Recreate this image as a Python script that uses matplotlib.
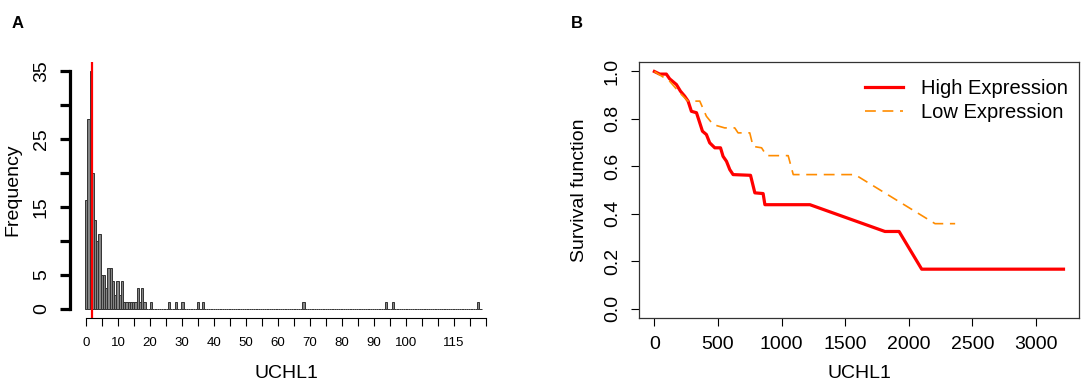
import numpy as np
import matplotlib
matplotlib.use("Agg")
import matplotlib.pyplot as plt

plt.rcParams['font.family'] = ['Liberation Sans', 'DejaVu Sans']

# panel A: histogram of UCHL1 (bin centres and counts)
bin_width = 0.7
bin_start = -0.3
hist_centers = [0.05, 0.75, 1.45, 2.15, 2.85, 3.55, 4.25, 4.95, 5.65, 6.35,
                7.05, 7.75, 8.45, 9.15, 9.85, 10.55, 11.25,
                11.95, 12.65, 13.35, 14.05, 14.75, 15.45, 16.15, 16.85, 17.55, 18.25,
                20.35, 26.0, 28.05, 30.15, 35.05, 36.45, 67.95, 93.85, 95.95, 122.55]
hist_counts = [16, 28, 35, 20, 13, 10, 11, 5, 5, 3,
               6, 6, 4, 2, 4, 2, 4,
               1, 1, 1, 1, 1, 1, 3, 1, 3, 1,
               1, 1, 1, 1, 1, 1, 1, 1, 1, 1]
cutoff = 1.97

freq_ticks = [0, 5, 10, 15, 20, 25, 30, 35]
freq_labels = ['0', '5', '', '15', '', '25', '', '35']
x_ticks_a = list(range(0, 126, 5))
x_labels_a = [str(v) if (v % 10 == 0 and v <= 100) or v == 115 else '' for v in x_ticks_a]

# panel B: survival curves
high_t = [0, 42, 94, 120, 173, 205, 238, 265, 291, 331, 357, 378, 409, 435, 475,
          520, 540, 567, 593, 619, 756, 790, 855, 869, 1223, 1813, 1924, 2102, 3217]
high_s = [1.0, 0.989, 0.989, 0.969, 0.945, 0.917, 0.896, 0.875, 0.832, 0.826, 0.783,
          0.748, 0.734, 0.699, 0.678, 0.678, 0.642, 0.621, 0.586, 0.565, 0.562, 0.488,
          0.485, 0.438, 0.438, 0.325, 0.325, 0.166, 0.166]
low_t = [0, 120, 199, 265, 357, 409, 462, 553, 632, 658, 750, 776, 843, 882, 1052,
         1092, 1577, 2207, 2365]
low_s = [1.0, 0.959, 0.910, 0.875, 0.875, 0.811, 0.776, 0.762, 0.762, 0.741, 0.741,
         0.684, 0.678, 0.645, 0.645, 0.565, 0.565, 0.358, 0.358]

fig = plt.figure(figsize=(10.84, 3.84), dpi=100)
W, H = 1084, 384

# ---- panel A
ax1 = fig.add_axes([70 / W, 66 / H, 432 / W, 256 / H])
edges = np.arange(bin_start, 124, bin_width)
ax1.hist(hist_centers, bins=edges, weights=hist_counts,
         facecolor='#858585', edgecolor='#333333', linewidth=0.7)
ax1.axvline(cutoff, color='#ff0000', linewidth=1.6)
ax1.set_xlim(-5, 130)
ax1.set_ylim(-1.4, 36.4)
for s in ['top', 'right']:
    ax1.spines[s].set_visible(False)
ax1.spines['left'].set_bounds(0, 35)
ax1.spines['left'].set_linewidth(2.3)
ax1.spines['bottom'].set_bounds(0, 125)
ax1.spines['bottom'].set_linewidth(0.8)
ax1.set_yticks(freq_ticks)
ax1.set_yticklabels(freq_labels)
ax1.tick_params(axis='y', length=7.5, width=2.3, labelsize=14, pad=7)
for lab in ax1.get_yticklabels():
    lab.set_rotation(90)
    lab.set_va('center')
ax1.set_xticks(x_ticks_a)
ax1.set_xticklabels(x_labels_a)
ax1.tick_params(axis='x', length=6, width=0.8, labelsize=9.5, pad=8)
ax1.set_ylabel('Frequency', fontsize=14)
ax1.yaxis.set_label_coords(-(70 - 21) / 432, 0.5)
ax1.set_xlabel('UCHL1', fontsize=14)
ax1.xaxis.set_label_coords(0.5, -(365 - 318) / 256)
fig.text(18 / W, 1 - 24 / H, 'A', fontsize=12, fontweight='bold', ha='center', va='center')

# ---- panel B
ax2 = fig.add_axes([639 / W, 66 / H, 440 / W, 256 / H])
ax2.plot(high_t, high_s, color='#ff0000', linewidth=2.3, label='High Expression')
ax2.plot(low_t, low_s, color='#ff8c00', linewidth=1.2, dashes=(6.5, 4.0),
         label='Low Expression')
ax2.set_xlim(-121, 3339)
ax2.set_ylim(-0.04, 1.04)
ax2.set_xticks(np.arange(0, 3001, 500))
ax2.set_yticks(np.arange(0, 1.01, 0.2))
ax2.set_yticklabels(['%.1f' % v for v in np.arange(0, 1.01, 0.2)])
for s in ax2.spines.values():
    s.set_linewidth(0.9)
    s.set_color('#333333')
ax2.tick_params(axis='both', length=6, width=0.8, labelsize=14, pad=7)
for lab in ax2.get_yticklabels():
    lab.set_rotation(90)
    lab.set_va('center')
ax2.set_ylabel('Survival function', fontsize=14)
ax2.yaxis.set_label_coords(-(639 - 588) / 440, 0.5)
ax2.set_xlabel('UCHL1', fontsize=14)
ax2.xaxis.set_label_coords(0.5, -(365 - 318) / 256)
ax2.legend(loc='upper right', frameon=False, fontsize=14.5, handlelength=1.9,
           handletextpad=0.9, labelspacing=0.25, borderaxespad=0,
           bbox_to_anchor=((1076 - 639) / 440, 1 - 9 / 256))
fig.text(577 / W, 1 - 24 / H, 'B', fontsize=12, fontweight='bold', ha='center', va='center')

fig.savefig('out.png', dpi=100)
